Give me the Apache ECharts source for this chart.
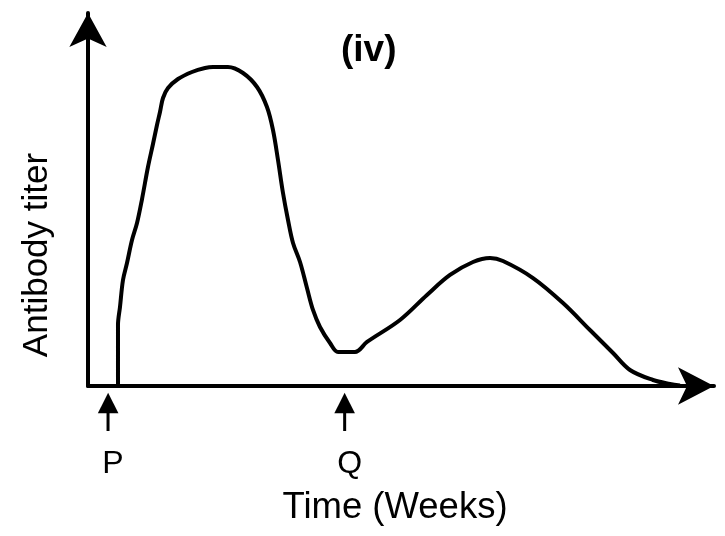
<!DOCTYPE html>
<html><head><meta charset="utf-8">
<script src="https://cdn.jsdelivr.net/npm/echarts@6/dist/echarts.min.js"></script>
<style>html,body{margin:0;padding:0;background:#fff}#c{width:725px;height:536px}</style>
</head><body><div id="c"></div>
<script>
const chartTitle = '(iv)';
const xAxisName = 'Time (Weeks)';
const yAxisName = 'Antibody titer';
const eventLabels = ['P', 'Q'];
const eventTimes = [3.2, 41.0];
const timeValues  = [4.79, 4.79, 5.11, 5.59, 6.23, 7.03, 7.83, 8.63, 9.58, 10.38, 11.02, 11.50, 11.98, 12.78, 14.38, 16.61, 18.69, 19.97, 22.36, 24.76, 27.00, 28.59, 29.55, 30.35, 31.15, 31.95, 32.75, 33.87, 34.98, 35.94, 37.06, 38.66, 39.94, 42.65, 44.57, 49.84, 54.15, 57.83, 61.50, 64.22, 66.29, 71.09, 75.88, 80.19, 83.87, 86.58, 90.26, 92.97, 94.57];
const titerValues = [0, 16.35, 21.18, 28.42, 32.98, 39.14, 43.70, 50.13, 58.71, 64.88, 69.97, 73.46, 77.21, 79.89, 82.31, 84.18, 85.25, 85.52, 85.52, 83.91, 80.16, 74.80, 68.63, 60.59, 51.74, 44.50, 38.34, 33.24, 26.27, 20.38, 15.82, 11.53, 9.12, 9.12, 11.80, 17.69, 24.40, 29.76, 33.24, 34.32, 33.51, 28.95, 22.25, 15.01, 8.85, 4.29, 1.61, 0.54, 0.13];

const chart = echarts.init(document.getElementById('c'));
const seriesData = timeValues.map((t, i) => [t, titerValues[i]]);
const FONT = 'Liberation Sans, Arial, sans-serif';

chart.setOption({
  animation: false,
  backgroundColor: '#fff',
  title: {
    text: chartTitle, left: 336, top: 27,
    textStyle: { fontFamily: FONT, fontWeight: 'bold', fontSize: 37, color: '#000' }
  },
  grid: { left: 88, right: 11, top: 13, bottom: 150 },
  xAxis: {
    type: 'value', min: 0, max: 100,
    name: xAxisName, nameLocation: 'middle', nameGap: 103,
    nameTextStyle: { fontFamily: FONT, fontSize: 36.5, color: '#000', padding: [0, 12, 0, 0] },
    axisLine: { show: true, onZero: true, symbol: ['none', 'arrow'], symbolSize: [28, 36],
      lineStyle: { color: '#000', width: 4 } },
    axisTick: { show: false },
    splitLine: { show: false },
    axisLabel: {
      show: true, customValues: eventTimes, margin: 7,
      formatter: function (v) {
        const i = eventTimes.indexOf(v);
        return '{h|\u25B2}\n{s| }\n{b|' + (i >= 0 ? eventLabels[i] : '') + '}';
      },
      rich: {
        h: { fontFamily: 'DejaVu Sans', fontSize: 27, lineHeight: 20, color: '#000' },
        s: { width: 3, height: 18, lineHeight: 18, backgroundColor: '#000', fontSize: 4 },
        b: { fontFamily: FONT, fontSize: 32, lineHeight: 66, color: '#000', padding: [0, 0, 0, 10] }
      }
    }
  },
  yAxis: {
    type: 'value', min: 0, max: 100,
    axisLine: { show: true, onZero: true, symbol: ['none', 'arrow'], symbolSize: [28, 34],
      lineStyle: { color: '#000', width: 4 } },
    axisTick: { show: false },
    splitLine: { show: false },
    axisLabel: { show: false }
  },
  graphic: [{
    type: 'text', x: 37, y: 255, rotation: Math.PI / 2,
    style: { text: yAxisName, font: '35px ' + FONT, fill: '#000',
      align: 'center', verticalAlign: 'middle', textAlign: 'center', textVerticalAlign: 'middle' }
  }],
  series: [{
    type: 'line', data: seriesData, showSymbol: false, smooth: 0.35, clip: false,
    lineStyle: { color: '#000', width: 4 }
  }]
});
</script></body></html>
